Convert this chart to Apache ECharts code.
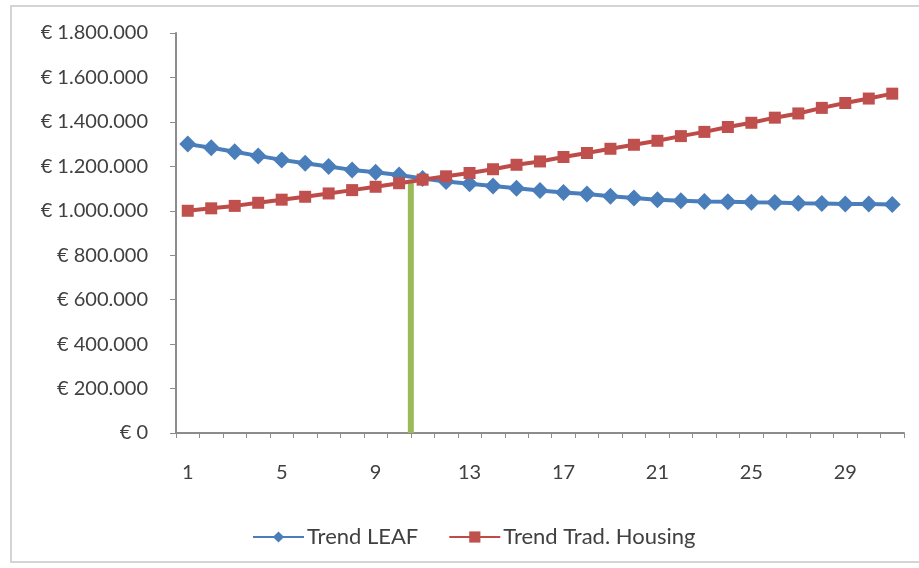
<!DOCTYPE html>
<html>
<head>
<meta charset="utf-8">
<script src="https://cdn.jsdelivr.net/npm/echarts@6/dist/echarts.min.js"></script>
<style>
  html, body { margin: 0; padding: 0; background: #fff; }
  #frame { position: absolute; left: 10px; top: 5px; width: 915px; height: 558px; border: 2px solid #d4d4d4; box-sizing: border-box; }
  #chart { width: 919px; height: 568px; position: absolute; left: 0; top: 0; }
</style>
</head>
<body>
<div id="frame"></div>
<div id="chart"></div>
<script>
// jaren 1..31
const years = Array.from({ length: 31 }, (_, i) => String(i + 1))

const trendLeaf = [
  1300000, 1284000, 1266000, 1247000, 1229000, 1214000, 1199000, 1184000, 1173000, 1161000,
  1145000, 1132000, 1122000, 1112000, 1101000, 1091000, 1082000, 1075000, 1065000, 1057000,
  1050000, 1045000, 1042000, 1041000, 1038000, 1037000, 1034000, 1033000, 1031000, 1030000,
  1028000
]

const trendTrad = [
  1000000, 1011000, 1022000, 1036000, 1050000, 1063000, 1078000, 1093000, 1108000, 1124000,
  1140000, 1155000, 1170000, 1187000, 1207000, 1222000, 1242000, 1260000, 1279000, 1297000,
  1315000, 1336000, 1355000, 1377000, 1396000, 1419000, 1438000, 1463000, 1485000, 1505000,
  1527000
]

// break-even moment (tussen jaar 10 en 11)
const breakEvenX = [10.5, 10.5]
const breakEvenY = [0, 1140000]

const yMax = 1800000
const yStep = 200000

const fmtEuro = v => '€ ' + String(v).replace(/\B(?=(\d{3})+(?!\d))/g, '.')

const chart = echarts.init(document.getElementById('chart'))
const axisColor = '#8c8c8c'
const textColor = '#404040'
const font = 'Lato, "Open Sans", sans-serif'

chart.setOption({
  animation: false,
  textStyle: { fontFamily: font },
  grid: { left: 176, right: 15, top: 33, bottom: 135 },
  legend: {
    top: 521,
    left: 247,
    itemWidth: 51,
    itemHeight: 14,
    itemGap: 30,
    textStyle: { fontSize: 22, color: textColor, fontFamily: font, padding: [0, 0, 0, -2] },
    data: ['Trend LEAF', 'Trend Trad. Housing']
  },
  xAxis: [{
    type: 'category',
    data: years,
    boundaryGap: true,
    axisLine: { lineStyle: { color: axisColor, width: 2 } },
    axisTick: { show: true, interval: 0, length: 5, lineStyle: { color: axisColor } },
    axisLabel: { interval: 3, color: textColor, fontSize: 20, margin: 30 }
  }, {
    type: 'value',
    min: 0.5,
    max: 31.5,
    show: false
  }],
  yAxis: {
    type: 'value',
    min: 0,
    max: yMax,
    interval: yStep,
    splitLine: { show: false },
    axisLine: { show: true, lineStyle: { color: axisColor, width: 2 } },
    axisTick: { show: true, length: 6, lineStyle: { color: axisColor } },
    axisLabel: { color: textColor, fontSize: 20, margin: 28, formatter: fmtEuro }
  },
  series: [{
    name: 'break-even',
    type: 'line',
    xAxisIndex: 1,
    data: breakEvenX.map((x, i) => [x, breakEvenY[i]]),
    symbol: 'none',
    lineStyle: { color: '#9BBB59', width: 6 },
    z: 1
  }, {
    name: 'Trend LEAF',
    type: 'line',
    data: trendLeaf,
    symbol: 'diamond',
    symbolSize: 17,
    showAllSymbol: true,
    color: '#4A7EBB',
    lineStyle: { width: 4, color: '#4A7EBB' },
    itemStyle: { color: '#4A7EBB' },
    z: 3
  }, {
    name: 'Trend Trad. Housing',
    type: 'line',
    data: trendTrad,
    symbol: 'rect',
    symbolSize: 12,
    showAllSymbol: true,
    color: '#C0504D',
    lineStyle: { width: 4, color: '#BE4B48' },
    itemStyle: { color: '#C0504D' },
    z: 4
  }]
})
</script>
</body>
</html>
